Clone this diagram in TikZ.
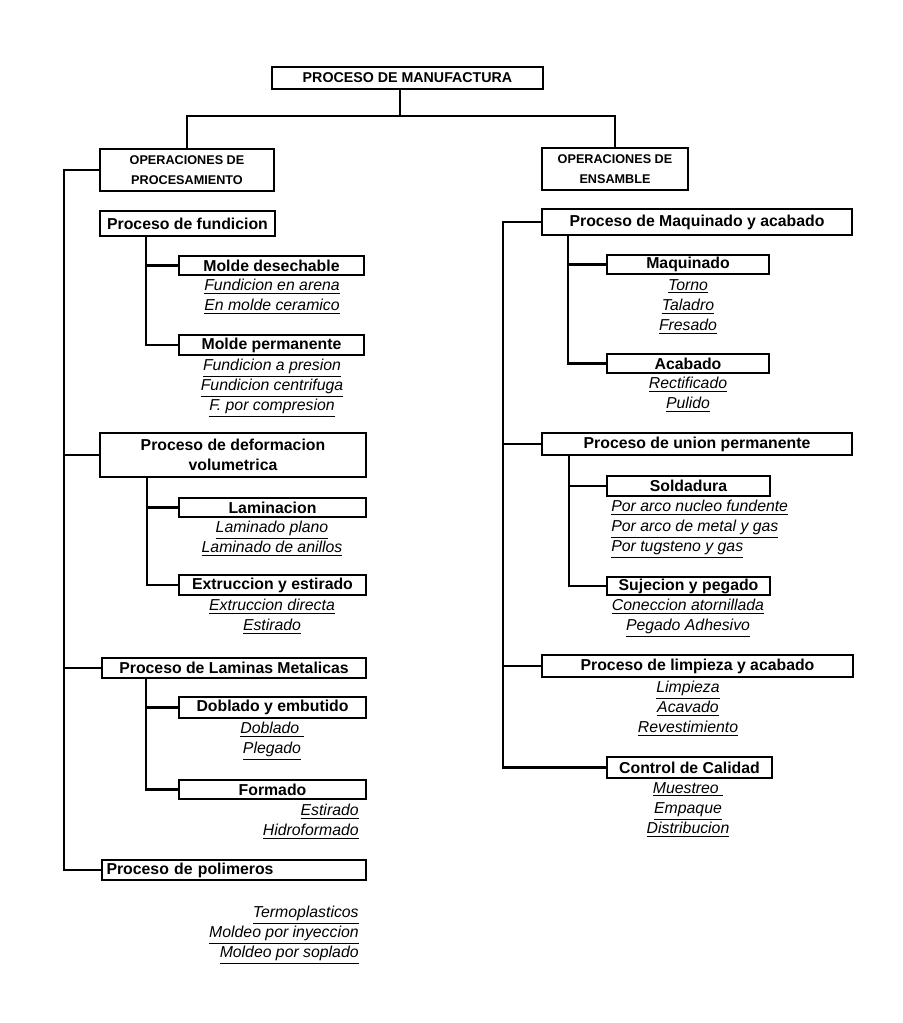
\documentclass[tikz,border=0pt]{standalone}
\usepackage{fontspec}
\setmainfont{Liberation Sans}

\begin{document}
\begin{tikzpicture}[x=0.02cm,y=-0.02cm,
  caja/.style={draw,line width=1.5pt,inner xsep=2pt,inner ysep=0pt,align=center,font=\fontsize{9}{11.4}\selectfont\bfseries},
  titulo/.style={caja,font=\fontsize{7.2}{11.4}\selectfont\bfseries},
  lista/.style={inner sep=0pt,anchor=north,align=center,font=\fontsize{9}{11.4}\selectfont\itshape},
  rama/.style={line width=1.3pt}]
\useasboundingbox (0,0) rectangle (902,1023);

% cabecera
\node[caja,font=\fontsize{8.1}{10}\selectfont\bfseries,minimum width=5.42cm,minimum height=0.44cm] (pm) at (407.5,78) {PROCESO DE MANUFACTURA};
\node[titulo,minimum width=3.48cm,minimum height=0.84cm] (op) at (187,170) {OPERACIONES DE\\PROCESAMIENTO};
\node[titulo,minimum width=2.92cm,minimum height=0.84cm] (oe) at (615,169) {OPERACIONES DE\\ENSAMBLE};
\coordinate (split) at (400,116);
\draw[rama] (pm.south -| split) -- (split);
\draw[rama] (split) -| (op);
\draw[rama] (split) -| (oe);

% procesamiento
\node[caja,minimum width=3.5cm,minimum height=0.5cm] (pf) at (187.5,223.5) {Proceso de fundicion};
\node[caja,minimum width=3.7cm,minimum height=0.38cm] (md) at (271.5,265.5) {Molde desechable};
\node[lista] (mdl) at (272,279) {\underline{Fundicion en arena}\\\underline{En molde ceramico}};
\node[caja,minimum width=3.7cm,minimum height=0.4cm] (mp) at (271.5,345) {Molde permanente};
\node[lista] (mpl) at (272,359) {\underline{Fundicion a presion}\\\underline{Fundicion centrifuga}\\\underline{F. por compresion}};

\node[caja,minimum width=5.32cm,minimum height=0.88cm] (dv) at (233,455) {Proceso de deformacion\\volumetrica};
\node[caja,minimum width=3.74cm,minimum height=0.38cm] (la) at (272.5,507.5) {Laminacion};
\node[lista] (lal) at (272,521) {\underline{Laminado plano}\\\underline{Laminado de anillos}};
\node[caja,minimum width=3.74cm,minimum height=0.4cm] (ex) at (272.5,585) {Extruccion y estirado};
\node[lista] (exl) at (272,599) {\underline{Extruccion directa}\\\underline{Estirado}};

\node[caja,minimum width=5.28cm,minimum height=0.4cm] (lm) at (234,668) {Proceso de Laminas Metalicas};
\node[caja,minimum width=3.74cm,minimum height=0.42cm] (de) at (272.5,707.5) {Doblado y embutido};
\node[lista] (del) at (272,722) {\underline{Doblado\ }\\\underline{Plegado}};
\node[caja,minimum width=3.74cm,minimum height=0.38cm] (fo) at (272.5,789.5) {Formado};
\node[lista,anchor=north east,align=right] (fol) at (359,804) {\underline{Estirado}\\\underline{Hidroformado}};

\node[caja,minimum width=5.28cm,minimum height=0.4cm,text width=5.1cm,align=left] (pp) at (234,870) {Proceso de polimeros};
\node[lista,anchor=north east,align=right] (ppl) at (359,906) {\underline{Termoplasticos}\\\underline{Moldeo por inyeccion}\\\underline{Moldeo por soplado}};

\coordinate (lt) at (64,170);
\draw[rama] (op.west) -- (lt) |- (pp.west);
\draw[rama] (lt |- dv.west) -- (dv.west);
\draw[rama] (lt |- lm.west) -- (lm.west);

\coordinate (fb) at (146,236);
\draw[rama] (fb) |- (mp.west);
\draw[rama] (fb |- md.west) -- (md.west);
\coordinate (db) at (147,477);
\draw[rama] (db) |- (ex.west);
\draw[rama] (db |- la.west) -- (la.west);
\coordinate (lb) at (146,678);
\draw[rama] (lb) |- (fo.west);
\draw[rama] (lb |- de.west) -- (de.west);

% ensamble
\node[caja,minimum width=6.2cm,minimum height=0.52cm] (ma) at (697,222) {Proceso de Maquinado y acabado};
\node[caja,minimum width=3.24cm,minimum height=0.38cm] (mq) at (688,264.5) {Maquinado};
\node[lista] (mql) at (688,279) {\underline{Torno}\\\underline{Taladro}\\\underline{Fresado}};
\node[caja,minimum width=3.24cm,minimum height=0.38cm] (ac) at (688,363.5) {Acabado};
\node[lista] (acl) at (688,377) {\underline{Rectificado}\\\underline{Pulido}};

\node[caja,minimum width=6.2cm,minimum height=0.44cm] (up) at (697,444) {Proceso de union permanente};
\node[caja,minimum width=3.26cm,minimum height=0.4cm] (so) at (688.5,486) {Soldadura};
\node[lista,anchor=north west,align=left] (sol) at (611,500) {\underline{Por arco nucleo fundente}\\\underline{Por arco de metal y gas}\\\underline{Por tugsteno y gas}};
\node[caja,minimum width=3.26cm,minimum height=0.36cm] (sp) at (688.5,586) {Sujecion y pegado};
\node[lista] (spl) at (688,599) {\underline{Coneccion atornillada}\\\underline{Pegado Adhesivo}};

\node[caja,minimum width=6.22cm,minimum height=0.44cm] (pl) at (697.5,666) {Proceso de limpieza y acabado};
\node[lista] (pll) at (688,681) {\underline{Limpieza}\\\underline{Acavado}\\\underline{Revestimiento}};
\node[caja,minimum width=3.3cm,minimum height=0.42cm] (cc) at (689.5,767.5) {Control de Calidad};
\node[lista] (ccl) at (688,782) {\underline{Muestreo\ }\\\underline{Empaque}\\\underline{Distribucion}};

\coordinate (rt) at (503,222);
\draw[rama] (ma.west) -- (rt) |- (cc.west);
\draw[rama] (rt |- up.west) -- (up.west);
\draw[rama] (rt |- pl.west) -- (pl.west);

\coordinate (mb) at (568,235);
\draw[rama] (mb) |- (ac.west);
\draw[rama] (mb |- mq.west) -- (mq.west);
\coordinate (ub) at (569,455);
\draw[rama] (ub) |- (sp.west);
\draw[rama] (ub |- so.west) -- (so.west);
\end{tikzpicture}
\end{document}
